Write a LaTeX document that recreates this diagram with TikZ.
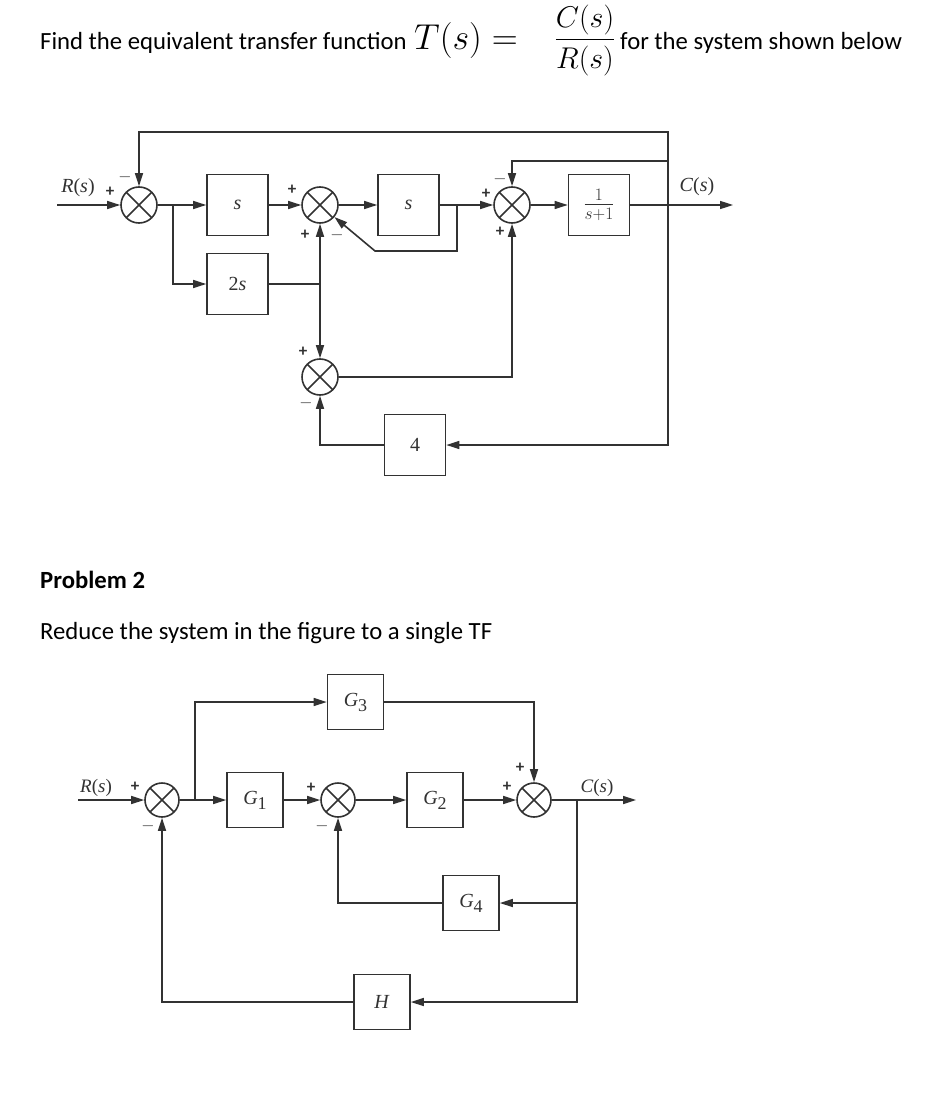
\RequirePackage{fix-cm}
\documentclass[tikz,border=0pt]{standalone}
\usepackage{amsmath}
\usepackage[no-math]{fontspec}
\setmainfont{Carlito}
\newfontfamily\dgfont{Liberation Serif}
\usetikzlibrary{positioning, arrows.meta, calc}
\definecolor{lc}{RGB}{50,50,50}
\tikzset{
  blk/.style={draw=lc, line width=1.6pt, minimum width=61pt, minimum height=61pt, inner sep=0pt,
    font=\dgfont\fontsize{20}{20}\selectfont, text=lc},
  sblk/.style={blk, minimum width=56pt, minimum height=55pt},
  sum node/.style={circle, draw=lc, line width=1.6pt, minimum size=36pt, inner sep=0pt,
    path picture={\draw[lc, line width=1.6pt]
      (path picture bounding box.north west) -- (path picture bounding box.south east)
      (path picture bounding box.north east) -- (path picture bounding box.south west);}},
  sgn/.style={font=\fontsize{17}{17}\selectfont\bfseries, text=lc, inner sep=0pt},
  lbl/.style={font=\dgfont\fontsize{20}{20}\selectfont, text=lc, inner sep=0pt},
  txt/.style={anchor=base west, inner sep=0pt, font=\fontsize{24.7}{30}\selectfont},
  wire/.style={draw=lc, line width=1.6pt},
  sig/.style={wire, -{Triangle[length=13pt, width=8pt]}},
}
\begin{document}
\begin{tikzpicture}[x=1pt, y=-1pt]
\useasboundingbox (0,0) rectangle (924,1107);

% Header
\node[txt] (find) at (40,50) {Find the equivalent transfer function};
\node[anchor=base west, inner sep=0pt, font=\fontsize{36}{40}\selectfont] (Ts) at (414,50) {$T(s) =$};
\node[anchor=base, inner sep=0pt, font=\fontsize{30}{36}\selectfont] (frac) at (585,47.5) {$\dfrac{C(s)}{R(s)}$};
\node[txt] (rest) at (620,50) {for the system shown below};

% Problem 1 -- blocks
\node[sum node] (S1) at (139,205) {};
\node[blk] (Bs1) at (237.5,205) {\textit{s}};
\node[blk] (B2s) at (237.5,284) {2\textit{s}};
\node[sum node] (S2) at (320,205) {};
\node[blk] (Bs2) at (408.5,205) {\textit{s}};
\node[sum node] (S3) at (512,205) {};
\node[blk, font=\fontsize{25}{25}\selectfont] (Bg) at (599,205) {$\frac{1}{s+1}$};
\node[sum node] (S4) at (320,377) {};
\node[blk] (B4) at (415,445) {4};

\coordinate (Rin) at (57,205);
\coordinate (c1) at (173,205);
\coordinate (c2) at (320,284);
\coordinate (c3) at (457,205);
\coordinate (c3d) at (457,251);
\coordinate (c3l) at (375,251);
\coordinate (cout) at (668,205);
\coordinate (Cout) at (733,205);
\coordinate (fbT) at (668,132);
\coordinate (fbM) at (668,161);
\coordinate (fbB) at (668,445);

\node[lbl] (Rlab) at (78,188) {\textit{R}(\textit{s})};
\node[lbl] (Clab) at (697,187) {\textit{C}(\textit{s})};

% Problem 1 -- signs
\node[sgn] (p1a) at ($(S1)+(-29,-13)$) {+};
\node[sgn] (m1a) at ($(S1)+(-14,-28)$) {$-$};
\node[sgn] (p2a) at ($(S2)+(-28,-15)$) {+};
\node[sgn] (p2b) at ($(S2)+(-15,30)$) {+};
\node[sgn] (m2a) at ($(S2)+(17,30)$) {$-$};
\node[sgn] (p3a) at ($(S3)+(-26,-11)$) {+};
\node[sgn] (m3a) at ($(S3)+(-12,-26)$) {$-$};
\node[sgn] (p3b) at ($(S3)+(-12,27)$) {+};
\node[sgn] (p4a) at ($(S4)+(-17,-25)$) {+};
\node[sgn] (m4a) at ($(S4)+(-14,26)$) {$-$};

% Problem 1 -- signals
\draw[sig] (Rin) -- (S1);
\draw[wire] (S1) -- (c1);
\draw[sig] (c1) -- (Bs1);
\draw[sig] (c1) |- (B2s);
\draw[sig] (Bs1) -- (S2);
\draw[wire] (B2s) -- (c2);
\draw[sig] (c2) -- (S2);
\draw[sig] (c2) -- (S4);
\draw[sig] (S2) -- (Bs2);
\draw[sig] (Bs2) -- (S3);
\draw[sig] (c3) -- (c3d) -- (c3l) -- (S2);
\draw[sig] (S3) -- (Bg);
\draw[sig] (Bg) -- (Cout);
\draw[sig] (cout) -- (fbT) -| (S1);
\draw[sig] (fbM) -| (S3);
\draw[sig] (S4) -| (S3);
\draw[sig] (cout) -- (fbB) -- (B4);
\draw[sig] (B4) -| (S4);

% Problem 2
\node[txt, font=\fontsize{24.7}{30}\selectfont\bfseries] (prob) at (40,588) {Problem 2};
\node[txt] (reduce) at (40,639) {Reduce the system in the figure to a single TF};

\node[sum node, minimum size=34pt] (S5) at (162,800) {};
\node[sblk] (G1) at (255,800) {\textit{G}\raisebox{-5pt}{\fontsize{18}{18}\selectfont 1}};
\node[sblk] (G3) at (355.5,702) {\textit{G}\raisebox{-5pt}{\fontsize{18}{18}\selectfont 3}};
\node[sum node, minimum size=34pt] (S6) at (338,800) {};
\node[sblk] (G2) at (435,800) {\textit{G}\raisebox{-5pt}{\fontsize{18}{18}\selectfont 2}};
\node[sum node, minimum size=34pt] (S7) at (534,800) {};
\node[sblk] (G4) at (471,903) {\textit{G}\raisebox{-5pt}{\fontsize{18}{18}\selectfont 4}};
\node[sblk] (H) at (382,1002) {\textit{H}};

\coordinate (Rin2) at (78,800);
\coordinate (d1) at (195,800);
\coordinate (d2) at (577,800);
\coordinate (Cout2) at (636,800);

\node[lbl, font=\dgfont\fontsize{19}{19}\selectfont] (Rlab2) at (96,788) {\textit{R}(\textit{s})};
\node[lbl, font=\dgfont\fontsize{19}{19}\selectfont] (Clab2) at (597,788) {\textit{C}(\textit{s})};

\node[sgn] (p5a) at ($(S5)+(-27,-13)$) {+};
\node[sgn] (m5a) at ($(S5)+(-14,26)$) {$-$};
\node[sgn] (p6a) at ($(S6)+(-27,-12)$) {+};
\node[sgn] (m6a) at ($(S6)+(-16,26)$) {$-$};
\node[sgn] (p7a) at ($(S7)+(-27,-13)$) {+};
\node[sgn] (p7b) at ($(S7)+(-14,-32)$) {+};

\draw[sig] (Rin2) -- (S5);
\draw[wire] (S5) -- (d1);
\draw[sig] (d1) -- (G1);
\draw[sig] (d1) |- (G3);
\draw[sig] (G1) -- (S6);
\draw[sig] (S6) -- (G2);
\draw[sig] (G2) -- (S7);
\draw[sig] (G3) -| (S7);
\draw[sig] (S7) -- (Cout2);
\draw[sig] (d2) |- (G4);
\draw[sig] (d2) |- (H);
\draw[sig] (G4) -| (S6);
\draw[sig] (H) -| (S5);
\end{tikzpicture}
\end{document}
